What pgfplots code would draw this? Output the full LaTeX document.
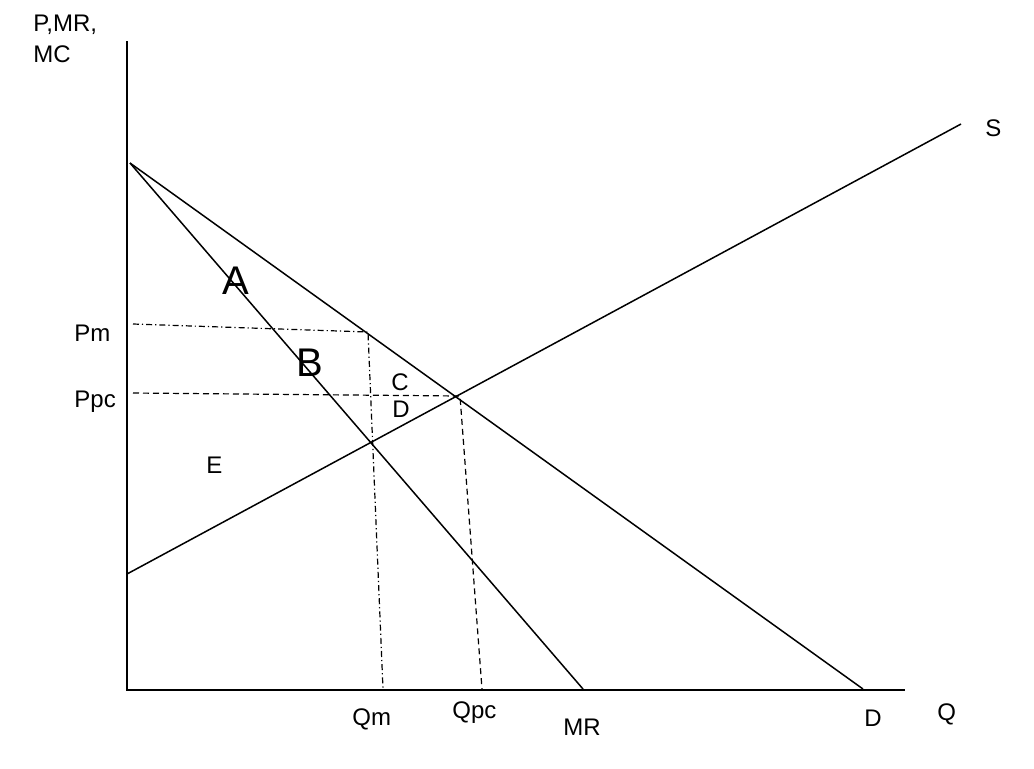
\documentclass[border=0pt]{standalone}
\usepackage{pgfplots}
\pgfplotsset{compat=1.18}
\usepackage{fontspec}
\setmainfont{Liberation Sans}
\begin{document}
\begin{tikzpicture}
\begin{axis}[
  width=517pt, height=384pt, scale only axis,
  xmin=0, xmax=1034, ymin=0, ymax=768, y dir=reverse,
  hide axis, clip=false,
  nodes={inner sep=0pt, anchor=base west, font=\fontsize{12}{14}\selectfont},
]
\path[draw=none] (axis cs:0,0) rectangle (axis cs:1034,768);
% axes
\addplot[black, no markers, line width=0.75pt] coordinates {(127,41) (127,690) (905,690)};
% demand
\addplot[black, no markers, line width=0.75pt] coordinates {(130,163) (863,689)};
% MR
\addplot[black, no markers, line width=0.75pt] coordinates {(130,163) (583,689)};
% supply
\addplot[black, no markers, line width=0.75pt] coordinates {(127,574) (961,124)};
% Pm (dash-dot)
\addplot[black, no markers, line width=0.6pt, dash pattern=on 3pt off 1.5pt on 0.6pt off 1.5pt] coordinates {(133,324) (368,332) (383,689)};
% Ppc (dashed)
\addplot[black, no markers, line width=0.6pt, dash pattern=on 3pt off 2pt] coordinates {(133,393) (460,396) (482,689)};
\node at (axis cs:33,31) {P,MR,};
\node at (axis cs:33,62) {MC};
\node at (axis cs:985,136) {S};
\node[font=\fontsize{20}{24}\selectfont] at (axis cs:222,294) {A};
\node[font=\fontsize{20}{24}\selectfont] at (axis cs:296,376) {B};
\node at (axis cs:391,390) {C};
\node at (axis cs:392,417) {D};
\node at (axis cs:206,473) {E};
\node at (axis cs:74,341) {Pm};
\node at (axis cs:74,407) {Ppc};
\node at (axis cs:352,725) {Qm};
\node at (axis cs:452,718) {Qpc};
\node at (axis cs:563,735) {MR};
\node at (axis cs:864,726) {D};
\node at (axis cs:937,720) {Q};
\end{axis}
\end{tikzpicture}
\end{document}
